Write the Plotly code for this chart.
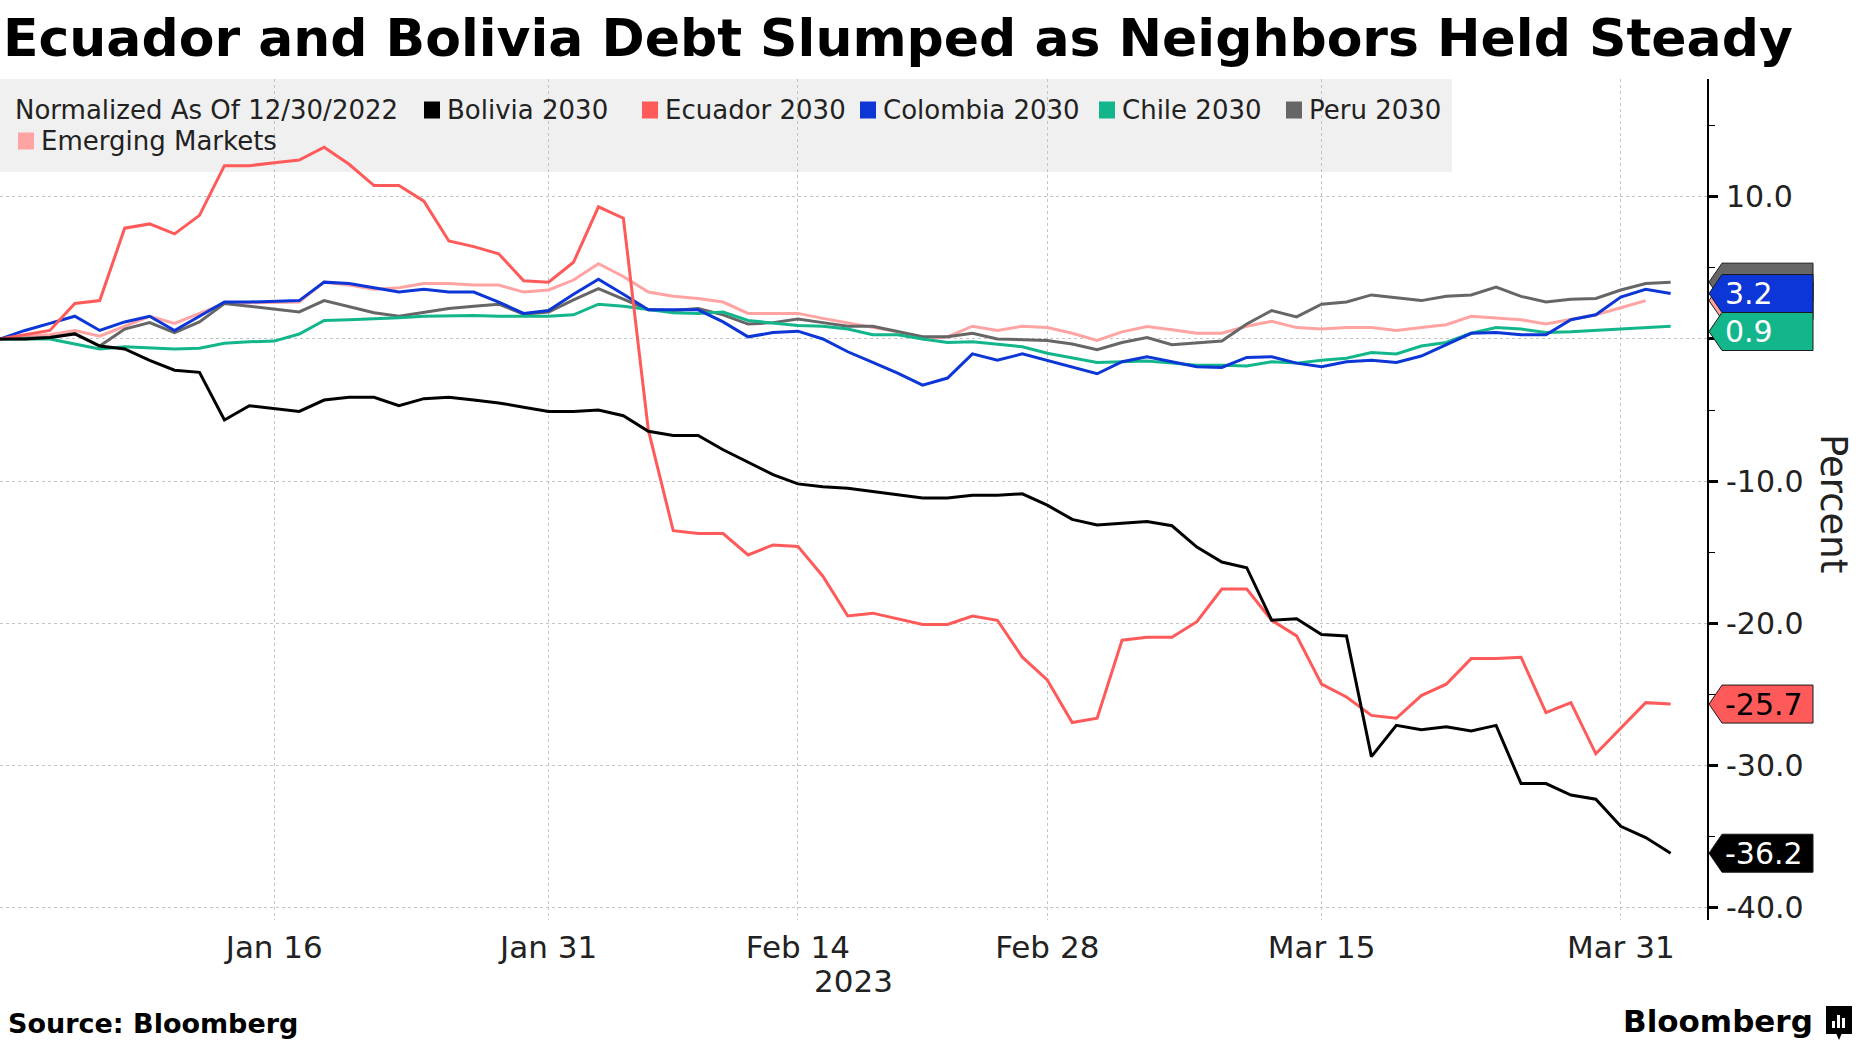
import pandas as pd
import plotly.graph_objects as go

# ---------------- data (normalized % change since 12/30/2022) ----------------
dates = pd.bdate_range("2022-12-30", "2023-04-04")  # 68 trading days

bolivia = [0, 0.0, 0.1, 0.35, -0.5, -0.7, -1.5, -2.2, -2.35, -5.7,
           -4.7, -4.9, -5.1, -4.3, -4.1, -4.1, -4.7, -4.2, -4.1, -4.3,
           -4.5, -4.8, -5.1, -5.1, -5.0, -5.4, -6.5, -6.8, -6.8, -7.8,
           -8.7, -9.55, -10.2, -10.4, -10.5, -10.75, -11.0, -11.2, -11.2, -11.0,
           -11.0, -10.9, -11.7, -12.7, -13.1, -12.95, -12.85, -13.15, -14.65, -15.7,
           -16.1, -19.8, -19.7, -20.8, -20.9, -29.4, -27.2, -27.5, -27.3, -27.6,
           -27.2, -31.3, -31.3, -32.1, -32.4, -34.3, -35.1, -36.2]

ecuador = [0, 0.3, 0.6, 2.5, 2.7, 7.8, 8.1, 7.4, 8.7, 12.2,
           12.2, 12.4, 12.6, 13.5, 12.3, 10.8, 10.8, 9.7, 6.9, 6.5,
           6.0, 4.1, 4.0, 5.4, 9.3, 8.5, -6.4, -13.5, -13.7, -13.7,
           -15.2, -14.5, -14.6, -16.7, -19.5, -19.3, -19.7, -20.1, -20.1, -19.5,
           -19.8, -22.4, -24.0, -27.0, -26.7, -21.2, -21.0, -21.0, -19.9, -17.6,
           -17.6, -19.8, -20.9, -24.3, -25.2, -26.5, -26.7, -25.1, -24.3, -22.5,
           -22.5, -22.4, -26.3, -25.6, -29.2, -27.4, -25.6, -25.7]

colombia = [0, 0.6, 1.1, 1.6, 0.6, 1.2, 1.6, 0.6, 1.6, 2.6,
            2.6, 2.65, 2.7, 4.0, 3.9, 3.6, 3.3, 3.5, 3.3, 3.3,
            2.6, 1.8, 2.0, 3.15, 4.2, 3.15, 2.05, 2.05, 2.05, 1.2,
            0.15, 0.45, 0.55, 0.0, -0.9, -1.65, -2.4, -3.25, -2.75, -1.05,
            -1.5, -1.05, -1.5, -1.95, -2.45, -1.6, -1.25, -1.6, -1.95, -2.0,
            -1.3, -1.25, -1.7, -1.95, -1.6, -1.5, -1.65, -1.2, -0.4, 0.4,
            0.45, 0.3, 0.3, 1.35, 1.7, 2.95, 3.5, 3.2]

chile = [0, 0, 0, -0.35, -0.7, -0.55, -0.6, -0.7, -0.65, -0.3,
         -0.2, -0.15, 0.35, 1.3, 1.35, 1.4, 1.5, 1.6, 1.65, 1.65,
         1.6, 1.6, 1.6, 1.7, 2.45, 2.3, 2.05, 1.85, 1.8, 1.9,
         1.3, 1.1, 0.95, 0.9, 0.7, 0.3, 0.3, 0.0, -0.25, -0.2,
         -0.4, -0.55, -1.0, -1.35, -1.65, -1.6, -1.55, -1.7, -1.85, -1.85,
         -1.9, -1.6, -1.7, -1.5, -1.35, -0.95, -1.05, -0.5, -0.25, 0.4,
         0.8, 0.7, 0.45, 0.5, 0.6, 0.65, 0.8, 0.9]

peru = [0, 0.05, 0.1, 0.4, -0.5, 0.7, 1.15, 0.45, 1.2, 2.5,
        2.3, 2.1, 1.9, 2.7, 2.3, 1.85, 1.6, 1.9, 2.15, 2.3,
        2.45, 1.75, 1.9, 2.75, 3.55, 2.8, 2.05, 2.0, 2.15, 1.7,
        1.05, 1.15, 1.4, 1.15, 0.9, 0.9, 0.5, 0.15, 0.15, 0.4,
        0.0, -0.05, -0.1, -0.35, -0.75, -0.25, 0.1, -0.4, -0.3, -0.15,
        1.05, 2.0, 1.55, 2.45, 2.6, 3.1, 2.9, 2.7, 3.0, 3.1,
        3.65, 3.0, 2.6, 2.8, 2.85, 3.45, 3.9, 4.0]

emerging = [0, 0.2, 0.3, 0.6, 0.2, 0.9, 1.6, 1.1, 1.8, 2.5,
            2.55, 2.55, 2.6, 4.0, 3.8, 3.5, 3.6, 3.9, 3.9, 3.8,
            3.8, 3.3, 3.45, 4.15, 5.3, 4.4, 3.3, 3.0, 2.85, 2.6,
            1.8, 1.8, 1.8, 1.45, 1.15, 0.85, 0.5, 0.0, 0.15, 0.9,
            0.6, 0.9, 0.8, 0.4, -0.1, 0.5, 0.87, 0.65, 0.4, 0.4,
            0.9, 1.25, 0.8, 0.7, 0.8, 0.8, 0.6, 0.8, 1.0, 1.6,
            1.5, 1.35, 1.05, 1.4, 1.7, 2.2, 2.7, None]

tick_dates = ["2022-12-30", "2023-01-16", "2023-01-31", "2023-02-14",
              "2023-02-28", "2023-03-15", "2023-03-31"]
tick_text = ["", "Jan 16", "Jan 31", "Feb 14", "Feb 28", "Mar 15", "Mar 31"]
y_ticks = [10, 0, -10, -20, -30, -40]
y_text = ["10.0", "0.0", "-10.0", "-20.0", "-30.0", "-40.0"]

# ---------------- styling ----------------
W, H = 1860, 1046
PL, PR, PT, PB = 0, 1707, 79, 920           # plot area in pixels
YMIN, YMAX = -40.9, 18.3
FONT = "DejaVu Sans"

series = [
    ("Emerging Markets", emerging, "#ffa3a3"),
    ("Peru 2030", peru, "#666666"),
    ("Chile 2030", chile, "#13b68b"),
    ("Colombia 2030", colombia, "#0c36d6"),
    ("Ecuador 2030", ecuador, "#ff5a5a"),
    ("Bolivia 2030", bolivia, "#000000"),
]
colors = {n: c for n, _, c in series}


def px_x(px):
    return (px - PL) / (PR - PL)


def px_y(py):
    return (PB - py) / (PB - PT)


units_per_px = (YMAX - YMIN) / (PB - PT)

fig = go.Figure()
for name, vals, col in series:
    fig.add_trace(go.Scatter(x=dates, y=vals, mode="lines", name=name,
                             line=dict(color=col, width=3), showlegend=False,
                             connectgaps=False))

shapes = []
annotations = []

# legend background
shapes.append(dict(type="rect", xref="paper", yref="paper", x0=px_x(0), x1=px_x(1452),
                   y0=px_y(172), y1=px_y(79), fillcolor="#f0f0f0", line=dict(width=0),
                   layer="below"))
legend_items = [
    ("Bolivia 2030", 424, 110), ("Ecuador 2030", 642, 110), ("Colombia 2030", 860, 110),
    ("Chile 2030", 1099, 110), ("Peru 2030", 1286, 110), ("Emerging Markets", 18, 141),
]
annotations.append(dict(text="Normalized As Of 12/30/2022", xref="paper", yref="paper",
                        x=px_x(13), y=px_y(110), xanchor="left", yanchor="middle",
                        showarrow=False, font=dict(family=FONT, size=26, color="#222")))
for name, x0, yc in legend_items:
    shapes.append(dict(type="rect", xref="paper", yref="paper", x0=px_x(x0), x1=px_x(x0 + 16),
                       y0=px_y(yc + 8.5), y1=px_y(yc - 8.5), fillcolor=colors[name],
                       line=dict(width=0), layer="above"))
    annotations.append(dict(text=name, xref="paper", yref="paper", x=px_x(x0 + 21),
                            y=px_y(yc), xanchor="left", yanchor="middle", showarrow=False,
                            font=dict(family=FONT, size=26, color="#222")))

# value tags on the right axis (Peru / EM tags sit under the Colombia tag)
half = 19 * units_per_px
last = {n: [v for v in vals if v is not None][-1] for n, vals, _ in series}
tag_center = dict(last)
tag_center["Chile 2030"] = min(last["Chile 2030"], last["Colombia 2030"] - 2 * half)
tag_order = [("Peru 2030", None), ("Emerging Markets", None), ("Chile 2030", "white"),
             ("Colombia 2030", "white"), ("Ecuador 2030", "black"), ("Bolivia 2030", "white")]
xt, xb, xr = px_x(1709), px_x(1722), px_x(1813)
for name, tcol in tag_order:
    yc = tag_center[name]
    path = (f"M {xt},{yc} L {xb},{yc + half} L {xr},{yc + half} "
            f"L {xr},{yc - half} L {xb},{yc - half} Z")
    shapes.append(dict(type="path", xref="paper", yref="y", path=path,
                       fillcolor=colors[name], line=dict(color="#1a1a1a", width=1),
                       layer="above"))
    if tcol is not None:
        annotations.append(dict(text=f"{last[name]:.1f}", xref="paper", yref="y",
                                x=px_x(1723), y=yc, xanchor="left", yanchor="middle",
                                showarrow=False, font=dict(family=FONT, size=30, color=tcol)))

# title, footer, axis title
annotations += [
    dict(text="Ecuador and Bolivia Debt Slumped as Neighbors Held Steady", xref="paper",
         yref="paper", x=px_x(1), y=px_y(38), xanchor="left", yanchor="middle", showarrow=False,
         font=dict(family=FONT, size=52, color="black", weight="bold")),
    dict(text="2023", xref="paper", yref="paper", x=0.5, y=px_y(981), xanchor="center",
         yanchor="middle", showarrow=False, font=dict(family=FONT, size=31, color="#222")),
    dict(text="Source: Bloomberg", xref="paper", yref="paper", x=px_x(6), y=px_y(1023),
         xanchor="left", yanchor="middle", showarrow=False,
         font=dict(family=FONT, size=27, color="black", weight="bold")),
    dict(text="Bloomberg", xref="paper", yref="paper", x=px_x(1815), y=px_y(1021),
         xanchor="right", yanchor="middle", showarrow=False,
         font=dict(family=FONT, size=31, color="black", weight="bold")),
    dict(text="Percent", xref="paper", yref="paper", x=px_x(1833), y=px_y(504),
         xanchor="center", yanchor="middle", textangle=90, showarrow=False,
         font=dict(family=FONT, size=37, color="#222")),
]
# Bloomberg logo glyph
shapes.append(dict(type="rect", xref="paper", yref="paper", x0=px_x(1826), x1=px_x(1852),
                   y0=px_y(1034), y1=px_y(1006), fillcolor="black", line=dict(width=0),
                   layer="above"))
shapes.append(dict(type="path", xref="paper", yref="paper", layer="above",
                   path=f"M {px_x(1836)},{px_y(1033)} L {px_x(1839)},{px_y(1040)} "
                        f"L {px_x(1842)},{px_y(1033)} Z",
                   fillcolor="black", line=dict(width=0)))
for bx, top in [(1832, 1021), (1837, 1015), (1842, 1018)]:
    shapes.append(dict(type="rect", xref="paper", yref="paper", x0=px_x(bx), x1=px_x(bx + 3),
                       y0=px_y(1028), y1=px_y(top), fillcolor="white", line=dict(width=0),
                       layer="above"))

fig.update_layout(
    width=W, height=H,
    margin=dict(l=PL, r=W - PR, t=PT, b=H - PB, autoexpand=False),
    paper_bgcolor="white", plot_bgcolor="white",
    font=dict(family=FONT, size=26, color="#222"),
    shapes=shapes, annotations=annotations,
    showlegend=False,
    xaxis=dict(type="date", range=["2022-12-30", "2023-04-05 11:00"],
               rangebreaks=[dict(bounds=["sat", "mon"])],
               tickmode="array", tickvals=tick_dates, ticktext=tick_text,
               ticks="", showline=False, zeroline=False,
               showgrid=True, gridcolor="#c4c4c4", griddash="dot", gridwidth=1,
               tickfont=dict(family=FONT, size=31, color="#222"), ticklabelstandoff=6),
    yaxis=dict(side="right", range=[YMIN, YMAX], tickmode="array", tickvals=y_ticks,
               ticktext=y_text, ticks="outside", ticklen=9, tickwidth=3, tickcolor="black",
               showline=True, linecolor="black", linewidth=2, zeroline=False,
               showgrid=True, gridcolor="#c4c4c4", griddash="dot", gridwidth=1,
               tickfont=dict(family=FONT, size=30, color="#222"), ticklabelstandoff=2,
               minor=dict(tickmode="array", tickvals=[15, 5, -5, -15, -25, -35],
                          ticks="outside", ticklen=6, tickwidth=1, tickcolor="black",
                          showgrid=False)),
)

fig.write_html("out.html", config={"displayModeBar": False},
               post_script="document.body.style.margin='0';document.body.style.overflow='hidden';")
